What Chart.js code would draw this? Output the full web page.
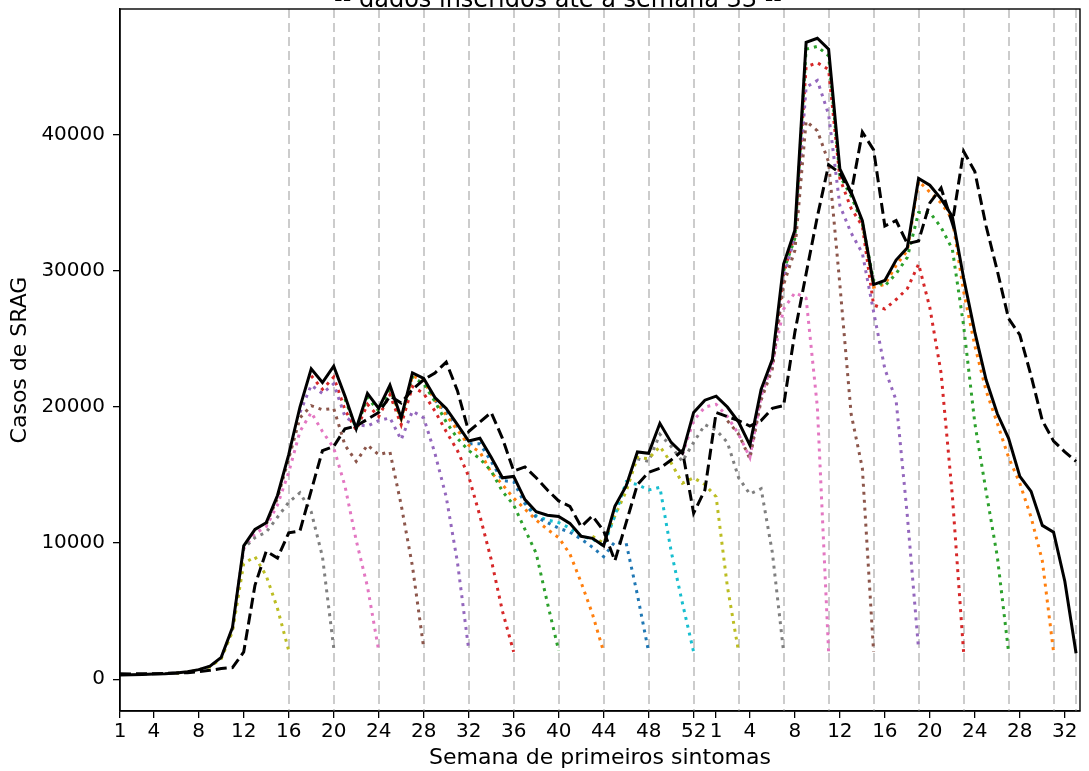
<!DOCTYPE html>
<html>
<head>
<meta charset="utf-8">
<script src="https://cdn.jsdelivr.net/npm/chart.js@4.4.1/dist/chart.umd.min.js"></script>
<style>
  html, body { margin: 0; padding: 0; background: #fff; }
  #wrap { width: 1089px; height: 771px; overflow: hidden; }
</style>
</head>
<body>
<div id="wrap"><canvas id="sragChart" width="1089" height="771"></canvas></div>
<script>
// x index 0 = semana 1 de 2020 (53 semanas), index 53 = semana 1 de 2021
const xTickIdx = [0, 3, 7, 11, 15, 19, 23, 27, 31, 35, 39, 43, 47, 51, 53, 56, 60, 64, 68, 72, 76, 80, 84];
const xTickText = ['1', '4', '8', '12', '16', '20', '24', '28', '32', '36', '40', '44', '48', '52',
                   '1', '4', '8', '12', '16', '20', '24', '28', '32'];
const yTicks = [0, 10000, 20000, 30000, 40000];

// semanas em que os dados foram inseridos (linhas verticais)
const vlineIdx = [15, 19, 23, 27, 31, 35, 39, 43, 47, 51, 55, 59, 63, 67, 71, 75, 79, 83, 85];

// casos por semana de primeiros sintomas (dados até a semana 33)
const finalCases = [
  300, 320, 350, 370, 400, 450, 550, 700, 950, 1600,
  3800, 9800, 11000, 11500, 13500, 16500, 20000, 22800, 21800, 23000,
  20800, 18400, 21000, 19900, 21600, 19200, 22500, 22100, 20700, 19900,
  18700, 17500, 17700, 16300, 14800, 14900, 13200, 12300, 12050, 11950,
  11450, 10500, 10350, 9800, 12700, 14200, 16700, 16600, 18800, 17400,
  16600, 19600, 20500, 20800, 20000, 18900, 17200, 21300, 23500, 30500,
  33000, 46800, 47100, 46300, 37500, 35800, 33700, 29000, 29300, 30800,
  31700, 36800, 36300, 35300, 34000, 29500, 25500, 22000, 19500, 17700,
  14900, 13800, 11300, 10800, 7200, 1900
];

// curva tracejada
const dashedCases = [
  400, 380, 400, 400, 420, 450, 480, 550, 650, 780,
  850, 2000, 6900, 9400, 8900, 10750, 10900, 13850, 16800, 17100,
  18400, 18600, 19100, 19600, 20800, 20300, 21300, 22000, 22500, 23300,
  21200, 18200, 18900, 19600, 17700, 15300, 15600, 14800, 13900, 13100,
  12700, 11200, 12000, 10900, 8700, 11500, 14300, 15200, 15500, 16100,
  16800, 12200, 13900, 19600, 19300, 19000, 18600, 19000, 19900, 20100,
  25500, 29800, 34000, 37800, 37200, 35700, 40200, 38900, 33300, 33700,
  32000, 32200, 35000, 36100, 33500, 38800, 37300, 33300, 30000, 26500,
  25300, 22300, 19000, 17500, 16700, 16000
];

// recortes: valores conhecidos em cada semana de inserção (terminam em snapEnds)
const snapEnds = [15, 19, 23, 27, 31, 35, 39, 43, 47, 51, 55, 59, 63, 67, 71, 75, 79, 83];
const snap16 = [430, 520, 660, 900, 1500, 3500, 8500, 9000, 7600, 5200, 2100];
const snap20 = [680, 930, 1550, 3650, 9600, 10400, 10800, 11900, 13000, 13700, 12300, 9000, 2300];
const snap24 = [3700, 9600, 10700, 11200, 12800, 15200, 18200, 19600, 18200, 17000, 14200, 10200, 6800, 2100];
const snap28 = [11400, 13300, 16200, 19200, 20100, 19800, 19900, 17200, 16000, 17200, 16500, 16700, 12800, 8300, 2300];
const snap32 = [19600, 21600, 21000, 21700, 19300, 18700, 18600, 19000, 19200, 17600, 19700, 19200, 16600, 13400, 8600, 2200];
const snap36 = [22300, 21300, 22200, 19800, 18300, 20200, 19300, 20900, 18700, 21500, 21000, 19700, 18200, 16800, 14900, 12000, 8800, 5000, 2000];
const snap40 = [20600, 18400, 20700, 19700, 21300, 19000, 22200, 21700, 20400, 18900, 17700, 16800, 16200, 15300, 13800, 12800, 11000, 9250, 5600, 2100];
const snap44 = [21400, 19100, 22300, 21900, 20500, 19400, 18300, 17200, 16700, 15200, 14300, 13300, 12500, 11700, 11000, 10400, 9200, 7100, 4800, 2000];
const snap48 = [20500, 19600, 18500, 17300, 17300, 16000, 14600, 14500, 12900, 11900, 11500, 11100, 10800, 10300, 9700, 9000, 10100, 10000, 6200, 2000];
const snap52 = [13000, 12000, 11700, 11500, 11100, 10500, 10300, 9800, 12000, 14500, 14300, 13900, 14100, 9400, 5600, 2000];
const snap03 = [10500, 10000, 12000, 13800, 16300, 16200, 17100, 15900, 14400, 14800, 14300, 13400, 6800, 2000];
const snap07 = [16200, 16000, 18000, 17100, 16000, 17400, 18700, 18300, 17400, 14800, 13600, 14000, 9300, 2000];
const snap11 = [16500, 19000, 20000, 20200, 19300, 18000, 16300, 20800, 23200, 27200, 28400, 28000, 20000, 2000];
const snap15 = [19000, 18000, 16200, 20500, 22800, 29000, 31500, 41000, 40300, 38000, 29000, 19500, 15500, 2000];
const snap19 = [16500, 20800, 23000, 29500, 32500, 43500, 44000, 41500, 34800, 32800, 31300, 27000, 22800, 20500, 12000, 2200];
const snap23 = [23200, 29800, 32700, 45000, 45300, 44800, 36800, 34600, 33300, 27500, 27200, 27900, 28700, 30500, 27300, 22500, 13500, 2000];
const snap27 = [30000, 32400, 46300, 46500, 45800, 37000, 35500, 33500, 29300, 28900, 29800, 31000, 34300, 34300, 33200, 31600, 26000, 18800, 13800, 9000, 2000];
const snap31 = [33500, 28800, 29000, 30400, 31500, 36600, 35800, 35000, 33800, 28500, 24500, 21200, 18800, 16300, 14400, 11900, 8700, 2000];

const snapValues = [snap16, snap20, snap24, snap28, snap32, snap36, snap40, snap44, snap48,
                    snap52, snap03, snap07, snap11, snap15, snap19, snap23, snap27, snap31];
const snapColors = ['#bcbd22', '#7f7f7f', '#e377c2', '#8c564b', '#9467bd', '#d62728', '#2ca02c', '#ff7f0e', '#1f77b4',
                    '#17becf', '#bcbd22', '#7f7f7f', '#e377c2', '#8c564b', '#9467bd', '#d62728', '#2ca02c', '#ff7f0e'];

const FONT = '"DejaVu Sans", sans-serif';

function toPoints(values, start) {
    return values.map((y, k) => ({ x: start + k, y: y }));
}

const datasets = [
    {
        data: toPoints(finalCases, 0),
        borderColor: '#000000',
        borderWidth: 3
    },
    {
        data: toPoints(dashedCases, 0),
        borderColor: '#000000',
        borderWidth: 3,
        borderDash: [11, 5]
    }
];
snapValues.forEach((vals, n) => {
    datasets.push({
        data: toPoints(vals, snapEnds[n] - vals.length + 1),
        borderColor: snapColors[n],
        borderWidth: 3,
        borderDash: [3, 5]
    });
});

const frame = {
    id: 'frame',
    beforeDatasetsDraw(chart) {
        const { ctx, chartArea, scales } = chart;
        ctx.save();
        ctx.strokeStyle = '#cccccc';
        ctx.lineWidth = 2;
        ctx.setLineDash([9, 5]);
        vlineIdx.forEach(v => {
            const px = Math.round(scales.x.getPixelForValue(v));
            ctx.beginPath();
            ctx.moveTo(px, chartArea.top);
            ctx.lineTo(px, chartArea.bottom);
            ctx.stroke();
        });
        ctx.restore();
    },
    afterDraw(chart) {
        const { ctx, chartArea } = chart;
        ctx.save();
        ctx.strokeStyle = '#000000';
        ctx.lineWidth = 1.4;
        ctx.strokeRect(chartArea.left, chartArea.top, chartArea.right - chartArea.left, chartArea.bottom - chartArea.top);
        ctx.fillStyle = '#000000';
        ctx.font = '24px ' + FONT;
        ctx.textAlign = 'center';
        ctx.textBaseline = 'alphabetic';
        ctx.fillText('-- dados inseridos até a semana 33 --', 558, 7);
        ctx.restore();
    }
};

// no extra room for half tick labels at the ends of the axes
function noEndPadding(scale) {
    scale.paddingTop = 0;
    scale.paddingBottom = 0;
    scale.paddingLeft = 0;
    scale.paddingRight = 0;
}

new Chart(document.getElementById('sragChart'), {
    type: 'line',
    data: { datasets: datasets },
    plugins: [frame],
    options: {
        responsive: false,
        animation: false,
        devicePixelRatio: 1,
        layout: { padding: { top: 9, right: 9, left: 0, bottom: 0 } },
        elements: {
            point: { radius: 0 },
            line: { tension: 0, fill: false }
        },
        plugins: {
            legend: { display: false },
            tooltip: { enabled: false }
        },
        scales: {
            x: {
                type: 'linear',
                min: 0,
                max: 85.35,
                afterBuildTicks: (scale) => {
                    scale.ticks = xTickIdx.map(v => ({ value: v }));
                },
                afterFit: (scale) => { scale.height = 60; noEndPadding(scale); },
                ticks: {
                    autoSkip: false,
                    maxRotation: 0,
                    padding: 2,
                    color: '#000',
                    font: { family: FONT, size: 20 },
                    callback: (value) => xTickText[xTickIdx.indexOf(value)]
                },
                grid: { drawOnChartArea: false, drawTicks: true, tickLength: 7, color: '#000', lineWidth: 1.3 },
                border: { display: true, color: '#000', width: 1.4 },
                title: {
                    display: true,
                    text: 'Semana de primeiros sintomas',
                    color: '#000',
                    font: { family: FONT, size: 22 },
                    padding: { top: 0, bottom: 0 }
                }
            },
            y: {
                type: 'linear',
                min: -2340,
                max: 49250,
                afterBuildTicks: (scale) => {
                    scale.ticks = yTicks.map(v => ({ value: v }));
                },
                afterFit: (scale) => { scale.width = 120; noEndPadding(scale); },
                ticks: {
                    padding: 8,
                    color: '#000',
                    font: { family: FONT, size: 20 },
                    callback: (value) => String(value)
                },
                grid: { drawOnChartArea: false, drawTicks: true, tickLength: 7, color: '#000', lineWidth: 1.3 },
                border: { display: true, color: '#000', width: 1.4 },
                title: {
                    display: true,
                    text: 'Casos de SRAG',
                    color: '#000',
                    font: { family: FONT, size: 22 },
                    padding: { top: 7, bottom: 0 }
                }
            }
        }
    }
});
</script>
</body>
</html>
